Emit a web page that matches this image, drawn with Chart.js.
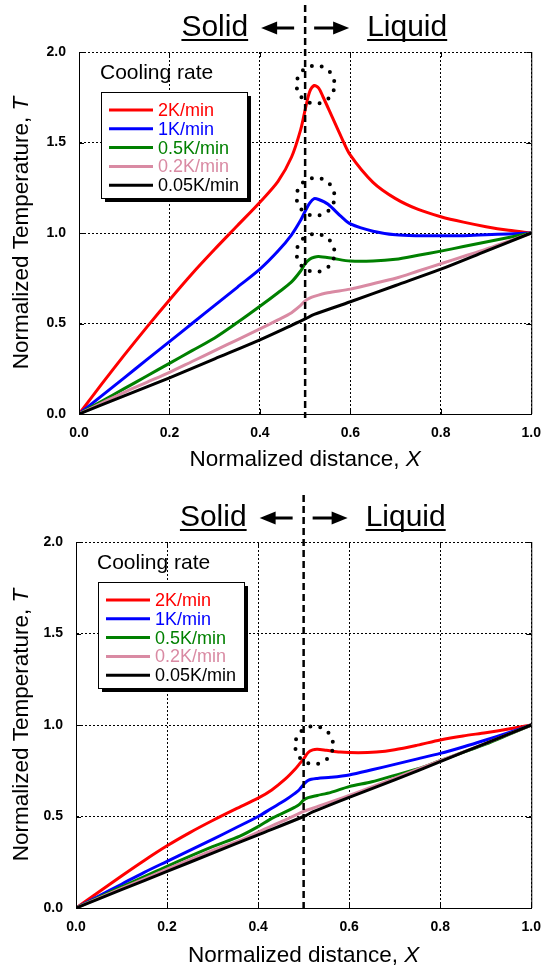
<!DOCTYPE html>
<html><head><meta charset="utf-8">
<script src="https://cdn.jsdelivr.net/npm/chart.js@4/dist/chart.umd.min.js"></script>
<style>
html,body{margin:0;padding:0;background:#fff;}
canvas{display:block;}
</style></head><body>
<canvas id="c1" width="552" height="484"></canvas>
<canvas id="c2" width="552" height="484"></canvas>
<script>
// ---------- shared ----------
const seriesLabels = ['2K/min', '1K/min', '0.5K/min', '0.2K/min', '0.05K/min'];
const seriesColors = ['#ff0000', '#0000ff', '#008000', '#d98aa3', '#000000'];
const xTickValues = [0, 0.2, 0.4, 0.6, 0.8, 1.0];
const yTickValues = [0, 0.5, 1.0, 1.5, 2.0];
const boundaryX = 0.5;
const xTitle = ['Normalized distance, ', 'X'];
const yTitle = ['Normalized Temperature, ', 'T'];

// ---------- top chart ----------
const topRedX   = [0, 0.05, 0.1, 0.15, 0.2, 0.25, 0.3, 0.35, 0.4, 0.44, 0.47, 0.49, 0.5, 0.51, 0.52, 0.53, 0.54, 0.56, 0.58, 0.6, 0.65, 0.7, 0.75, 0.8, 0.85, 0.9, 0.95, 1.0];
const topRedT   = [0, 0.165, 0.325, 0.48, 0.63, 0.775, 0.91, 1.04, 1.17, 1.285, 1.42, 1.57, 1.68, 1.78, 1.815, 1.80, 1.75, 1.64, 1.53, 1.43, 1.28, 1.19, 1.13, 1.09, 1.06, 1.035, 1.015, 1.0];
const topBlueX  = [0, 0.05, 0.1, 0.15, 0.2, 0.25, 0.3, 0.35, 0.4, 0.44, 0.47, 0.49, 0.5, 0.51, 0.52, 0.53, 0.55, 0.58, 0.6, 0.65, 0.7, 0.75, 0.8, 0.85, 0.9, 0.95, 1.0];
const topBlueT  = [0, 0.1, 0.2, 0.3, 0.4, 0.5, 0.6, 0.7, 0.8, 0.9, 0.99, 1.07, 1.12, 1.165, 1.19, 1.185, 1.16, 1.09, 1.05, 1.01, 0.99, 0.985, 0.985, 0.985, 0.99, 0.995, 1.0];
const topGreenX = [0, 0.05, 0.1, 0.15, 0.2, 0.25, 0.3, 0.35, 0.4, 0.44, 0.47, 0.49, 0.5, 0.51, 0.52, 0.53, 0.56, 0.6, 0.65, 0.7, 0.75, 0.8, 0.85, 0.9, 0.95, 1.0];
const topGreenT = [0, 0.07, 0.14, 0.21, 0.28, 0.35, 0.42, 0.505, 0.595, 0.67, 0.73, 0.79, 0.83, 0.855, 0.866, 0.87, 0.86, 0.845, 0.845, 0.855, 0.877, 0.9, 0.925, 0.95, 0.975, 1.0];
const topPinkX  = [0, 0.05, 0.1, 0.15, 0.2, 0.25, 0.3, 0.35, 0.4, 0.44, 0.47, 0.49, 0.5, 0.51, 0.52, 0.55, 0.6, 0.65, 0.7, 0.75, 0.8, 0.85, 0.9, 0.95, 1.0];
const topPinkT  = [0, 0.06, 0.12, 0.175, 0.23, 0.29, 0.35, 0.41, 0.47, 0.52, 0.56, 0.6, 0.625, 0.64, 0.65, 0.67, 0.69, 0.72, 0.75, 0.79, 0.83, 0.87, 0.91, 0.955, 1.0];
const topBlackX = [0, 0.1, 0.2, 0.3, 0.4, 0.47, 0.5, 0.52, 0.6, 0.7, 0.8, 0.9, 1.0];
const topBlackT = [0, 0.1, 0.2, 0.305, 0.41, 0.49, 0.525, 0.55, 0.62, 0.71, 0.8, 0.9, 1.0];
const topCircles = [[0.523, 1.82], [0.523, 1.20], [0.523, 0.89]];

// ---------- bottom chart ----------
const botRedX   = [0, 0.05, 0.1, 0.15, 0.2, 0.25, 0.3, 0.35, 0.4, 0.43, 0.46, 0.48, 0.49, 0.5, 0.51, 0.52, 0.53, 0.55, 0.58, 0.62, 0.66, 0.7, 0.75, 0.8, 0.85, 0.9, 0.95, 1.0];
const botRedT   = [0, 0.087, 0.175, 0.26, 0.34, 0.412, 0.478, 0.54, 0.6, 0.645, 0.705, 0.755, 0.785, 0.815, 0.85, 0.864, 0.868, 0.862, 0.852, 0.848, 0.852, 0.865, 0.89, 0.918, 0.94, 0.958, 0.978, 1.0];
const botBlueX  = [0, 0.05, 0.1, 0.15, 0.2, 0.25, 0.3, 0.35, 0.4, 0.43, 0.46, 0.48, 0.49, 0.5, 0.51, 0.53, 0.56, 0.6, 0.65, 0.7, 0.75, 0.8, 0.85, 0.9, 0.95, 1.0];
const botBlueT  = [0, 0.065, 0.13, 0.195, 0.255, 0.315, 0.375, 0.437, 0.5, 0.545, 0.59, 0.625, 0.645, 0.675, 0.698, 0.708, 0.714, 0.727, 0.755, 0.785, 0.815, 0.845, 0.88, 0.918, 0.958, 1.0];
const botGreenX = [0, 0.1, 0.2, 0.3, 0.36, 0.4, 0.43, 0.46, 0.48, 0.49, 0.5, 0.51, 0.53, 0.56, 0.6, 0.65, 0.7, 0.75, 0.8, 0.85, 0.9, 0.95, 1.0];
const botGreenT = [0, 0.115, 0.228, 0.335, 0.393, 0.445, 0.49, 0.525, 0.55, 0.565, 0.59, 0.603, 0.615, 0.632, 0.663, 0.69, 0.725, 0.76, 0.805, 0.85, 0.895, 0.947, 1.0];
const botPinkX  = [0, 0.1, 0.2, 0.3, 0.36, 0.4, 0.45, 0.5, 0.52, 0.6, 0.7, 0.8, 0.9, 1.0];
const botPinkT  = [0, 0.107, 0.212, 0.315, 0.37, 0.415, 0.47, 0.528, 0.545, 0.615, 0.71, 0.805, 0.9, 1.0];
const botBlackX = [0, 0.1, 0.2, 0.3, 0.4, 0.5, 0.52, 0.6, 0.7, 0.8, 0.9, 1.0];
const botBlackT = [0, 0.1, 0.2, 0.3, 0.4, 0.5, 0.525, 0.605, 0.7, 0.8, 0.9, 1.0];
const botCircles = [[0.523, 0.89]];

const FONT = "'Liberation Sans', Arial, sans-serif";

function dsets(pairs) {
  return pairs.map((p, i) => ({
    label: seriesLabels[i],
    data: p[0].map((x, j) => ({ x: x, y: p[1][j] })),
    borderColor: seriesColors[i],
    backgroundColor: seriesColors[i],
    borderWidth: 3,
    pointRadius: 0,
    fill: false,
    tension: 0.3,
    order: 4 - i
  }));
}

function mixedText(ctx, parts, cx, cy, size) {
  ctx.font = size + 'px ' + FONT;
  const w0 = ctx.measureText(parts[0]).width;
  ctx.font = 'italic ' + size + 'px ' + FONT;
  const w1 = ctx.measureText(parts[1]).width;
  const s = cx - (w0 + w1) / 2;
  ctx.textAlign = 'left'; ctx.textBaseline = 'middle';
  ctx.font = size + 'px ' + FONT;
  ctx.fillText(parts[0], s, cy);
  ctx.font = 'italic ' + size + 'px ' + FONT;
  ctx.fillText(parts[1], s + w0, cy);
}

const overlay = {
  id: 'overlay',
  afterDatasetsDraw(chart, args, opt) {
    const { ctx, chartArea: a, scales: { x, y } } = chart;
    ctx.save();
    // right frame + inward ticks
    ctx.strokeStyle = '#000'; ctx.lineWidth = 1; ctx.setLineDash([]);
    ctx.beginPath();
    ctx.moveTo(a.right + 0.5, a.top); ctx.lineTo(a.right + 0.5, a.bottom);
    xTickValues.forEach(v => {
      const px = Math.round(x.getPixelForValue(v)) + 0.5;
      ctx.moveTo(px, a.bottom); ctx.lineTo(px, a.bottom - 5);
      ctx.moveTo(px, a.top); ctx.lineTo(px, a.top + 5);
    });
    yTickValues.forEach(v => {
      const py = Math.round(y.getPixelForValue(v)) + 0.5;
      ctx.moveTo(a.left, py); ctx.lineTo(a.left + 5, py);
      ctx.moveTo(a.right, py); ctx.lineTo(a.right - 5, py);
    });
    ctx.stroke();

    // dashed boundary line
    const dx = x.getPixelForValue(boundaryX);
    ctx.lineWidth = 2.5; ctx.setLineDash([7, 4]);
    ctx.beginPath(); ctx.moveTo(dx, a.top - 47); ctx.lineTo(dx, a.bottom + 4); ctx.stroke();

    // dotted circles
    ctx.lineWidth = 4; ctx.lineCap = 'round';
    const r = 19, n = 12;
    ctx.setLineDash([0, 2 * Math.PI * r / n]);
    opt.circles.forEach(c => {
      ctx.beginPath();
      ctx.arc(x.getPixelForValue(c[0]), y.getPixelForValue(c[1]), r, 0.3, 0.3 + Math.PI * 2);
      ctx.stroke();
    });
    ctx.setLineDash([]); ctx.lineCap = 'butt';

    // header: Solid <-  -> Liquid
    const base = a.top - 16;
    ctx.fillStyle = '#000';
    ctx.font = '30px ' + FONT;
    ctx.textBaseline = 'alphabetic'; ctx.textAlign = 'left';
    const wS = ctx.measureText('Solid').width;
    const sL = dx - 57 - wS;
    ctx.fillText('Solid', sL, base);
    ctx.fillRect(sL, base + 3, wS, 2);
    const lL = dx + 62;
    const wL = ctx.measureText('Liquid').width;
    ctx.fillText('Liquid', lL, base);
    ctx.fillRect(lL, base + 3, wL, 2);
    const ay = base - 8;
    const arrow = (tail, tip) => {
      const dir = Math.sign(tip - tail);
      ctx.lineWidth = 3;
      ctx.beginPath(); ctx.moveTo(tail, ay); ctx.lineTo(tip - dir * 12, ay); ctx.stroke();
      ctx.beginPath(); ctx.moveTo(tip, ay); ctx.lineTo(tip - dir * 16, ay - 6.5); ctx.lineTo(tip - dir * 16, ay + 6.5); ctx.closePath(); ctx.fill();
    };
    arrow(dx - 11, dx - 44);
    arrow(dx + 9, dx + 44);

    // legend
    const L = a.left, T = a.top;
    ctx.font = '21px ' + FONT; ctx.textBaseline = 'middle';
    ctx.fillText('Cooling rate', L + 21, T + 21);
    const bx = L + 22, by = T + 40, bw = 146, bh = 106;
    ctx.fillStyle = '#000'; ctx.fillRect(bx + 4, by + 4, bw, bh);
    ctx.fillStyle = '#fff'; ctx.fillRect(bx, by, bw, bh);
    ctx.strokeStyle = '#000'; ctx.lineWidth = 1;
    ctx.strokeRect(bx + 0.5, by + 0.5, bw, bh);
    ctx.font = '18px ' + FONT;
    chart.data.datasets.forEach((d, i) => {
      const ry = T + 58 + i * 18.8;
      ctx.strokeStyle = d.borderColor; ctx.lineWidth = 3;
      ctx.beginPath(); ctx.moveTo(L + 30, ry); ctx.lineTo(L + 74, ry); ctx.stroke();
      ctx.fillStyle = d.borderColor;
      ctx.fillText(d.label, L + 79, ry + 1);
    });

    // axis titles (italic variable letters)
    ctx.fillStyle = '#000';
    mixedText(ctx, xTitle, (a.left + a.right) / 2, a.bottom + opt.xTitleOffset, 22.5);
    ctx.save();
    ctx.translate(22, (a.top + a.bottom) / 2);
    ctx.rotate(-Math.PI / 2);
    mixedText(ctx, yTitle, 0, 0, 22.5);
    ctx.restore();
    ctx.restore();
  }
};

function makeChart(id, pairs, circles, pad, yW, xH, xTitleOffset) {
  return new Chart(document.getElementById(id), {
    type: 'line',
    data: { datasets: dsets(pairs) },
    options: {
      responsive: false,
      animation: false,
      layout: { padding: pad },
      plugins: { legend: { display: false }, tooltip: { enabled: false },
                 overlay: { circles: circles, xTitleOffset: xTitleOffset } },
      scales: {
        x: {
          type: 'linear', min: 0, max: 1,
          afterFit: s => { s.height = xH; },
          afterBuildTicks: s => { s.ticks = xTickValues.map(v => ({ value: v })); },
          ticks: { color: '#000', font: { family: FONT, size: 14, weight: 'bold' }, padding: 11, maxRotation: 0,
                   callback: v => v.toFixed(1) },
          grid: { color: '#000', lineWidth: 1, drawTicks: false },
          border: { display: true, color: '#000', width: 1, dash: [2, 2] },
          title: { display: false, text: xTitle.join('') }
        },
        y: {
          type: 'linear', min: 0, max: 2,
          afterFit: s => { s.width = yW; },
          afterBuildTicks: s => { s.ticks = yTickValues.map(v => ({ value: v })); },
          ticks: { color: '#000', font: { family: FONT, size: 14, weight: 'bold' }, padding: 13,
                   callback: v => v.toFixed(1) },
          grid: { color: '#000', lineWidth: 1, drawTicks: false },
          border: { display: true, color: '#000', width: 1, dash: [2, 2] },
          title: { display: false, text: yTitle.join('') }
        }
      }
    },
    plugins: [overlay]
  });
}

makeChart('c1',
  [[topRedX, topRedT], [topBlueX, topBlueT], [topGreenX, topGreenT], [topPinkX, topPinkT], [topBlackX, topBlackT]],
  topCircles, { left: 10, top: 52, right: 20, bottom: 11 }, 69, 59, 46);
makeChart('c2',
  [[botRedX, botRedT], [botBlueX, botBlueT], [botGreenX, botGreenT], [botPinkX, botPinkT], [botBlackX, botBlackT]],
  botCircles, { left: 10, top: 58, right: 17, bottom: 0 }, 66, 60, 48);
</script>
</body></html>
